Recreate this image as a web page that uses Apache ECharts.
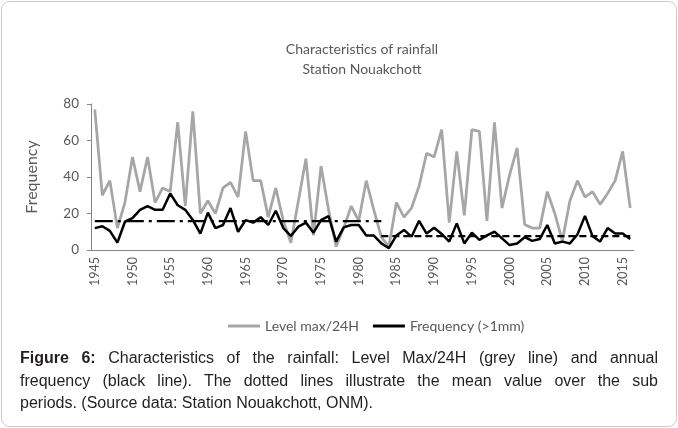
<!DOCTYPE html>
<html>
<head>
<meta charset="utf-8">
<script src="https://cdn.jsdelivr.net/npm/echarts@6/dist/echarts.min.js"></script>
<style>
    html, body { margin: 0; padding: 0; background: #fff; }
    #wrap { position: relative; width: 678px; height: 428px; }
    #chart { position: absolute; left: 0; top: 0; width: 678px; height: 428px; }
    #caption { position: absolute; left: 20px; top: 347px; width: 638px;
        font-family: "Liberation Sans", Arial, sans-serif; font-size: 16px; line-height: 22.5px; color: #231f20; }
    #caption div { text-align: justify; white-space: nowrap; }
    #caption .full { text-align-last: justify; }
</style>
</head>
<body>
<div id="wrap">
    <div id="chart"></div>
    <div id="caption">
        <div class="full"><b>Figure 6:</b> Characteristics of the rainfall: Level Max/24H (grey line) and annual</div>
        <div class="full">frequency (black line). The dotted lines illustrate the mean value over the sub</div>
        <div>periods. (Source data: Station Nouakchott, ONM).</div>
    </div>
</div>
<script>
var years = ['1945','1946','1947','1948','1949','1950','1951','1952','1953','1954',
    '1955','1956','1957','1958','1959','1960','1961','1962','1963','1964',
    '1965','1966','1967','1968','1969','1970','1971','1972','1973','1974',
    '1975','1976','1977','1978','1979','1980','1981','1982','1983','1984',
    '1985','1986','1987','1988','1989','1990','1991','1992','1993','1994',
    '1995','1996','1997','1998','1999','2000','2001','2002','2003','2004',
    '2005','2006','2007','2008','2009','2010','2011','2012','2013','2014',
    '2015','2016'];

// Level max/24H (grey)
var levelMax = [77, 30, 38, 12, 26, 51, 32, 51, 26, 34,
    32, 70, 24, 76, 20, 27, 20, 34, 37, 29,
    65, 38, 38, 18, 34, 16, 4, 27, 50, 8,
    46, 22, 2, 12, 24, 16, 38, 22, 7, 2,
    26, 18, 23, 35, 53, 51, 66, 15, 54, 19,
    66, 65, 16, 70, 23, 41, 56, 14, 12, 12,
    32, 20, 5, 27, 38, 29, 32, 25, 31, 38,
    54, 23];

// Frequency (>1mm) (black)
var frequency = [12, 13, 10.5, 4, 15.5, 17.5, 22, 24, 22, 22,
    31, 24.5, 22, 16.5, 9, 20.5, 12, 13.7, 23, 10,
    16.4, 15, 18, 13.7, 21.5, 12, 7.7, 12.8, 15, 9.5,
    16.4, 18.6, 4.6, 12.4, 13.7, 13.7, 7.9, 7.9, 3.6, 1,
    8, 11, 7.3, 16, 9, 12.2, 8.8, 4.6, 14.6, 3.6,
    9.5, 5.5, 8, 10, 6.4, 2.7, 3.6, 7, 5, 6,
    13.7, 3.6, 4.6, 3.6, 8.5, 18.7, 7.6, 4.6, 12, 9,
    9, 6];

// mean over the sub periods
var periodBounds = ['1945', '1983', '2016'];
var periodMeans = [16, 7.7];

var txtColor = '#595959';
var axisColor = '#868686';
var font = 'Lato';

var option = {
    animation: false,
    title: {
        text: 'Characteristics of rainfall\nStation Nouakchott',
        left: 357,
        top: 34,
        textAlign: 'center',
        textStyle: {
            fontFamily: font,
            fontSize: 14,
            fontWeight: 'normal',
            color: txtColor,
            lineHeight: 20
        }
    },
    legend: {
        data: [
            {name: 'Level max/24H', icon: 'rect'},
            {name: 'Frequency (>1mm)', icon: 'rect'}
        ],
        left: 223,
        top: 314,
        itemWidth: 32,
        itemHeight: 3,
        itemGap: 14,
        textStyle: {fontFamily: font, fontSize: 14, color: txtColor}
    },
    grid: {left: 91, right: 44, top: 104, bottom: 178},
    xAxis: {
        type: 'category',
        data: years,
        boundaryGap: true,
        axisLine: {lineStyle: {color: axisColor}},
        axisTick: {interval: 0, length: 5, lineStyle: {color: axisColor}},
        axisLabel: {
            interval: 4,
            rotate: 90,
            margin: 7,
            fontFamily: font,
            fontSize: 12.5,
            color: txtColor
        }
    },
    yAxis: {
        type: 'value',
        min: 0,
        max: 80,
        interval: 20,
        name: 'Frequency',
        nameLocation: 'middle',
        nameGap: 51,
        nameTextStyle: {fontFamily: font, fontSize: 16, color: txtColor},
        axisLine: {show: true, lineStyle: {color: axisColor}},
        axisTick: {show: true, length: 4, lineStyle: {color: axisColor}},
        splitLine: {show: false},
        axisLabel: {margin: 12, fontFamily: font, fontSize: 13.5, color: txtColor}
    },
    series: [
        {
            name: 'Level max/24H',
            type: 'line',
            data: levelMax,
            symbol: 'none',
            itemStyle: {color: '#a6a6a6'},
            lineStyle: {color: '#a6a6a6', width: 2.75}
        },
        {
            name: 'Frequency (>1mm)',
            type: 'line',
            data: frequency,
            symbol: 'none',
            z: 3,
            itemStyle: {color: '#000'},
            lineStyle: {color: '#000', width: 2.5},
            markLine: {
                silent: true,
                symbol: ['none', 'none'],
                label: {show: false},
                lineStyle: {color: '#000', width: 2.25},
                data: [
                    [{coord: [periodBounds[0], periodMeans[0]], lineStyle: {type: [18, 5, 3, 5]}},
                     {coord: [periodBounds[1], periodMeans[0]]}],
                    [{coord: [periodBounds[1], periodMeans[1]], lineStyle: {type: [7, 4]}},
                     {coord: [periodBounds[2], periodMeans[1]]}]
                ]
            }
        }
    ],
    graphic: [
        {
            type: 'rect',
            shape: {x: 1.5, y: 1.5, width: 675, height: 425, r: 8},
            style: {fill: 'none', stroke: '#c9c9c9', lineWidth: 1},
            silent: true
        }
    ]
};

var myChart = echarts.init(document.getElementById('chart'));
myChart.setOption(option);
</script>
</body>
</html>
